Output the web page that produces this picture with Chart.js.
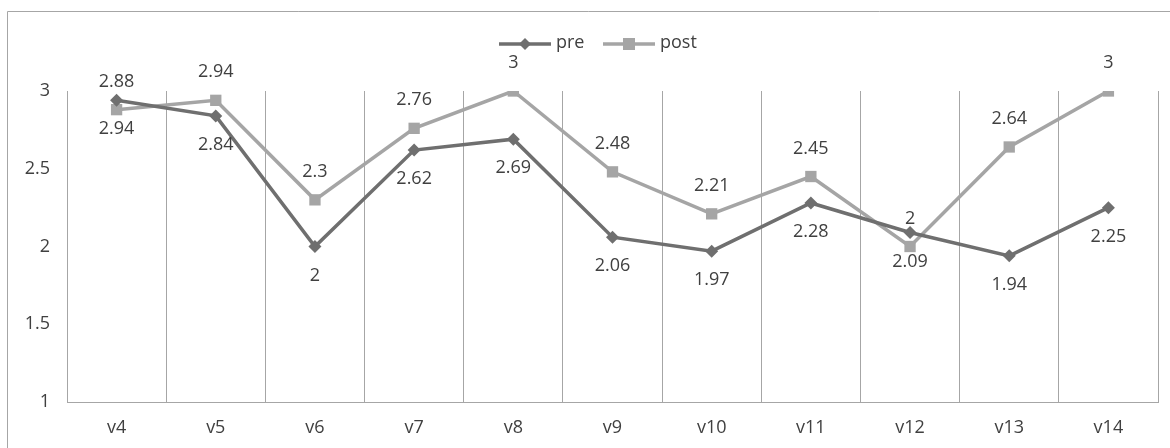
<!DOCTYPE html>
<html>
<head>
<meta charset="utf-8">
<script src="https://cdn.jsdelivr.net/npm/chart.js@4/dist/chart.umd.min.js"></script>
<style>
html,body{margin:0;padding:0;background:#fff;}
#wrap{width:1170px;height:448px;position:relative;}
</style>
</head>
<body>
<div id="wrap"><canvas id="c" width="1170" height="448"></canvas></div>
<script>
const categories = ['v4','v5','v6','v7','v8','v9','v10','v11','v12','v13','v14'];
const preValues  = [2.94, 2.84, 2, 2.62, 2.69, 2.06, 1.97, 2.28, 2.09, 1.94, 2.25];
const postValues = [2.88, 2.94, 2.3, 2.76, 3, 2.48, 2.21, 2.45, 2, 2.64, 3];
const seriesNames = ['pre', 'post'];
const yTicks = [1, 1.5, 2, 2.5, 3];

const FONT = '"Open Sans", "Noto Sans", sans-serif';
const FS = 18;
const TXT = '#404040';
const PRE_C = '#6f6f6f';
const POST_C = '#a5a5a5';
const GRID_C = '#a6a6a6';

const frame = {
  id: 'frame',
  beforeDraw(chart) {
    const ctx = chart.ctx;
    ctx.save();
    ctx.fillStyle = '#fff';
    ctx.fillRect(0, 0, chart.width, chart.height);
    ctx.strokeStyle = '#a6a6a6';
    ctx.lineWidth = 1;
    ctx.beginPath();
    ctx.moveTo(7.5, chart.height);
    ctx.lineTo(7.5, 11.5);
    ctx.lineTo(chart.width, 11.5);
    ctx.stroke();
    ctx.restore();
  }
};

const labels = {
  id: 'valueLabels',
  afterDatasetsDraw(chart) {
    const ctx = chart.ctx;
    ctx.save();
    ctx.font = FS + 'px ' + FONT;
    ctx.fillStyle = TXT;
    ctx.textAlign = 'center';
    ctx.textBaseline = 'middle';
    chart.data.datasets.forEach((ds, i) => {
      const meta = chart.getDatasetMeta(i);
      const above = ds.label === 'post';
      meta.data.forEach((pt, j) => {
        const v = ds.data[j];
        ctx.fillText(String(v), pt.x, above ? pt.y - 28 : pt.y + 29);
      });
    });
    ctx.restore();
  }
};

const legend = {
  id: 'customLegend',
  afterDraw(chart) {
    const ctx = chart.ctx;
    ctx.save();
    const y = 44;
    const items = [
      {name: seriesNames[0], color: PRE_C, x0: 499, style: 'rectRot'},
      {name: seriesNames[1], color: POST_C, x0: 603, style: 'rect'}
    ];
    items.forEach(it => {
      ctx.strokeStyle = it.color;
      ctx.lineWidth = 3.5;
      ctx.beginPath();
      ctx.moveTo(it.x0, y);
      ctx.lineTo(it.x0 + 52, y);
      ctx.stroke();
      const cx = it.x0 + 26;
      ctx.fillStyle = it.color;
      if (it.style === 'rect') {
        ctx.fillRect(cx - 6, y - 6, 12, 12);
      } else {
        ctx.beginPath();
        ctx.moveTo(cx, y - 6); ctx.lineTo(cx + 6, y); ctx.lineTo(cx, y + 6); ctx.lineTo(cx - 6, y);
        ctx.closePath(); ctx.fill();
      }
      ctx.fillStyle = TXT;
      ctx.font = FS + 'px ' + FONT;
      ctx.textAlign = 'left';
      ctx.textBaseline = 'middle';
      ctx.fillText(it.name, it.x0 + 57, y - 1);
    });
    ctx.restore();
  }
};

new Chart(document.getElementById('c'), {
  type: 'line',
  data: {
    labels: categories,
    datasets: [
      {
        label: seriesNames[0], data: preValues,
        borderColor: PRE_C, backgroundColor: PRE_C,
        borderWidth: 3.5, pointStyle: 'rectRot', pointRadius: 6.5, pointHoverRadius: 6.5,
        pointBorderWidth: 0, tension: 0
      },
      {
        label: seriesNames[1], data: postValues,
        borderColor: POST_C, backgroundColor: POST_C,
        borderWidth: 3.5, pointStyle: 'rect', pointRadius: 8, pointHoverRadius: 8,
        pointBorderWidth: 0, tension: 0
      }
    ]
  },
  options: {
    responsive: false,
    animation: false,
    events: [],
    layout: { padding: { top: 91, right: 12, left: 0, bottom: 0 } },
    plugins: { legend: { display: false }, tooltip: { enabled: false } },
    scales: {
      x: {
        offset: true,
        grid: { display: true, offset: true, color: GRID_C, lineWidth: 1, drawTicks: false },
        border: { display: true, color: GRID_C, width: 1 },
        ticks: { color: TXT, font: { family: FONT, size: FS }, padding: 15 },
        afterFit(s) { s.height = 46; }
      },
      y: {
        min: 1, max: 3,
        afterBuildTicks(s) { s.ticks = yTicks.map(v => ({ value: v })); },
        grid: { display: false, drawTicks: false },
        border: { display: false },
        ticks: { color: TXT, font: { family: FONT, size: FS }, padding: 17,
                 callback: (v) => String(v) },
        afterFit(s) { s.width = 67; }
      }
    }
  },
  plugins: [frame, labels, legend]
});
</script>
</body>
</html>
